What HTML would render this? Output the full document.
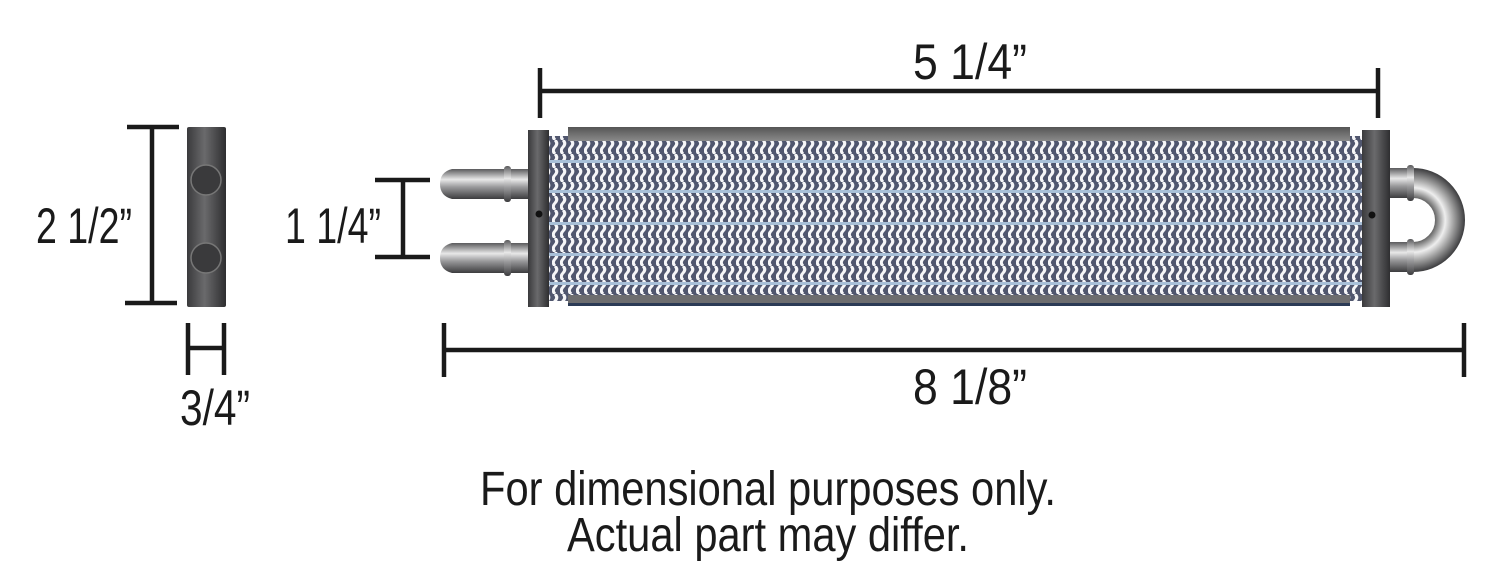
<!DOCTYPE html>
<html><head><meta charset="utf-8"><style>
html,body{margin:0;padding:0;background:#fff;}
svg{display:block;}
text{font-family:"Liberation Sans Narrow","Liberation Sans",sans-serif;fill:#1a1a1a;}
</style></head><body>
<svg width="1500" height="576" viewBox="0 0 1500 576" xmlns="http://www.w3.org/2000/svg">
<defs>
<linearGradient id="bar" x1="0" x2="1">
<stop offset="0" stop-color="#3a3a3c"/><stop offset="0.45" stop-color="#6a6a6c"/><stop offset="1" stop-color="#2e2e30"/>
</linearGradient>
<linearGradient id="pipe" x1="0" y1="0" x2="0" y2="1">
<stop offset="0" stop-color="#5a5a5c"/><stop offset="0.35" stop-color="#e8e8e8"/><stop offset="0.6" stop-color="#9a9a9c"/><stop offset="1" stop-color="#3c3c3e"/>
</linearGradient>
<radialGradient id="ubend" cx="1413" cy="220" r="52" gradientUnits="userSpaceOnUse">
<stop offset="0.4" stop-color="#555"/><stop offset="0.62" stop-color="#eee"/><stop offset="0.8" stop-color="#999"/><stop offset="1" stop-color="#3c3c3e"/>
</radialGradient>
<linearGradient id="cover" x1="0" y1="0" x2="0" y2="1">
<stop offset="0" stop-color="#555"/><stop offset="1" stop-color="#8a8a8a"/>
</linearGradient>
<pattern id="fin" width="8" height="14" patternUnits="userSpaceOnUse">
<rect width="8" height="14" fill="#50566e"/>
<path d="M3 0 Q6.5 3.5 3 7 Q-0.5 10.5 3 14" stroke="#f6f6f8" stroke-width="3" fill="none"/>
</pattern>
</defs>

<!-- side view -->
<rect x="187" y="127" width="39" height="180" fill="url(#bar)" rx="2"/>
<circle cx="206" cy="180" r="15" fill="#3a3a3c" stroke="#777" stroke-width="1.5"/>
<circle cx="206" cy="258" r="15" fill="#3a3a3c" stroke="#777" stroke-width="1.5"/>
<g stroke="#1a1a1a" stroke-width="4.5">
<line x1="152" y1="127" x2="152" y2="303"/>
<line x1="127" y1="127" x2="179" y2="127"/>
<line x1="125" y1="303" x2="177" y2="303"/>
<line x1="188" y1="323" x2="188" y2="375"/>
<line x1="224" y1="323" x2="224" y2="375"/>
<line x1="188" y1="348" x2="224" y2="348"/>
<line x1="540" y1="68" x2="540" y2="118"/>
<line x1="1378" y1="68" x2="1378" y2="118"/>
<line x1="540" y1="91" x2="1378" y2="91"/>
<line x1="444" y1="323" x2="444" y2="377"/>
<line x1="1464" y1="323" x2="1464" y2="377"/>
<line x1="444" y1="350" x2="1464" y2="350"/>
<line x1="403" y1="180" x2="403" y2="257"/>
<line x1="375" y1="180" x2="430" y2="180"/>
<line x1="375" y1="257" x2="430" y2="257"/>
</g>

<text x="36" y="243" font-size="50" textLength="96" lengthAdjust="spacingAndGlyphs">2 1/2”</text>
<text x="180" y="425" font-size="50" textLength="70" lengthAdjust="spacingAndGlyphs">3/4”</text>
<text x="285" y="243" font-size="50" textLength="96" lengthAdjust="spacingAndGlyphs">1 1/4”</text>
<text x="913" y="79" font-size="50" textLength="114" lengthAdjust="spacingAndGlyphs">5 1/4”</text>
<text x="913" y="404" font-size="50" textLength="114" lengthAdjust="spacingAndGlyphs">8 1/8”</text>
<text x="768" y="505" font-size="48" text-anchor="middle" textLength="576" lengthAdjust="spacingAndGlyphs">For dimensional purposes only.</text>
<text x="768" y="551" font-size="48" text-anchor="middle" textLength="402" lengthAdjust="spacingAndGlyphs">Actual part may differ.</text>

<!-- left tubes -->
<path d="M528 169 L452 169 Q440 172 440 184 Q440 196 452 199 L528 199 Z" fill="url(#pipe)"/>
<rect x="504" y="166" width="7" height="36" rx="3" fill="url(#pipe)"/>
<path d="M528 243 L452 243 Q440 246 440 258 Q440 270 452 273 L528 273 Z" fill="url(#pipe)"/>
<rect x="504" y="240" width="7" height="36" rx="3" fill="url(#pipe)"/>

<!-- right U -->
<path d="M1388 183 L1413 183 A37 37 0 0 1 1413 257 L1388 257" stroke="url(#ubend)" stroke-width="30" fill="none"/>
<rect x="1390" y="168" width="23" height="30" fill="url(#pipe)"/>
<rect x="1390" y="242" width="23" height="30" fill="url(#pipe)"/>
<rect x="1407" y="165" width="7" height="36" rx="3" fill="url(#pipe)"/>
<rect x="1407" y="239" width="7" height="36" rx="3" fill="url(#pipe)"/>

<!-- core -->
<rect x="548" y="136" width="814" height="165" fill="url(#fin)"/>
<g fill="#a8c0d8">
<rect x="548" y="160" width="814" height="3"/>
<rect x="548" y="190" width="814" height="3"/>
<rect x="548" y="222" width="814" height="3"/>
<rect x="548" y="253" width="814" height="3"/>
<rect x="548" y="282" width="814" height="3"/>
</g>
<rect x="568" y="127" width="782" height="14" fill="url(#cover)"/>
<rect x="568" y="295" width="782" height="10" fill="#6d6d6f"/>
<rect x="568" y="303" width="782" height="3" fill="#2b3a55"/>

<!-- end plates -->
<rect x="528" y="130" width="21" height="177" fill="url(#bar)"/>
<circle cx="539" cy="214" r="3.5" fill="#111"/>
<rect x="1362" y="130" width="28" height="177" fill="url(#bar)"/>
<circle cx="1372" cy="215" r="3.5" fill="#111"/>
</svg>
</body></html>
